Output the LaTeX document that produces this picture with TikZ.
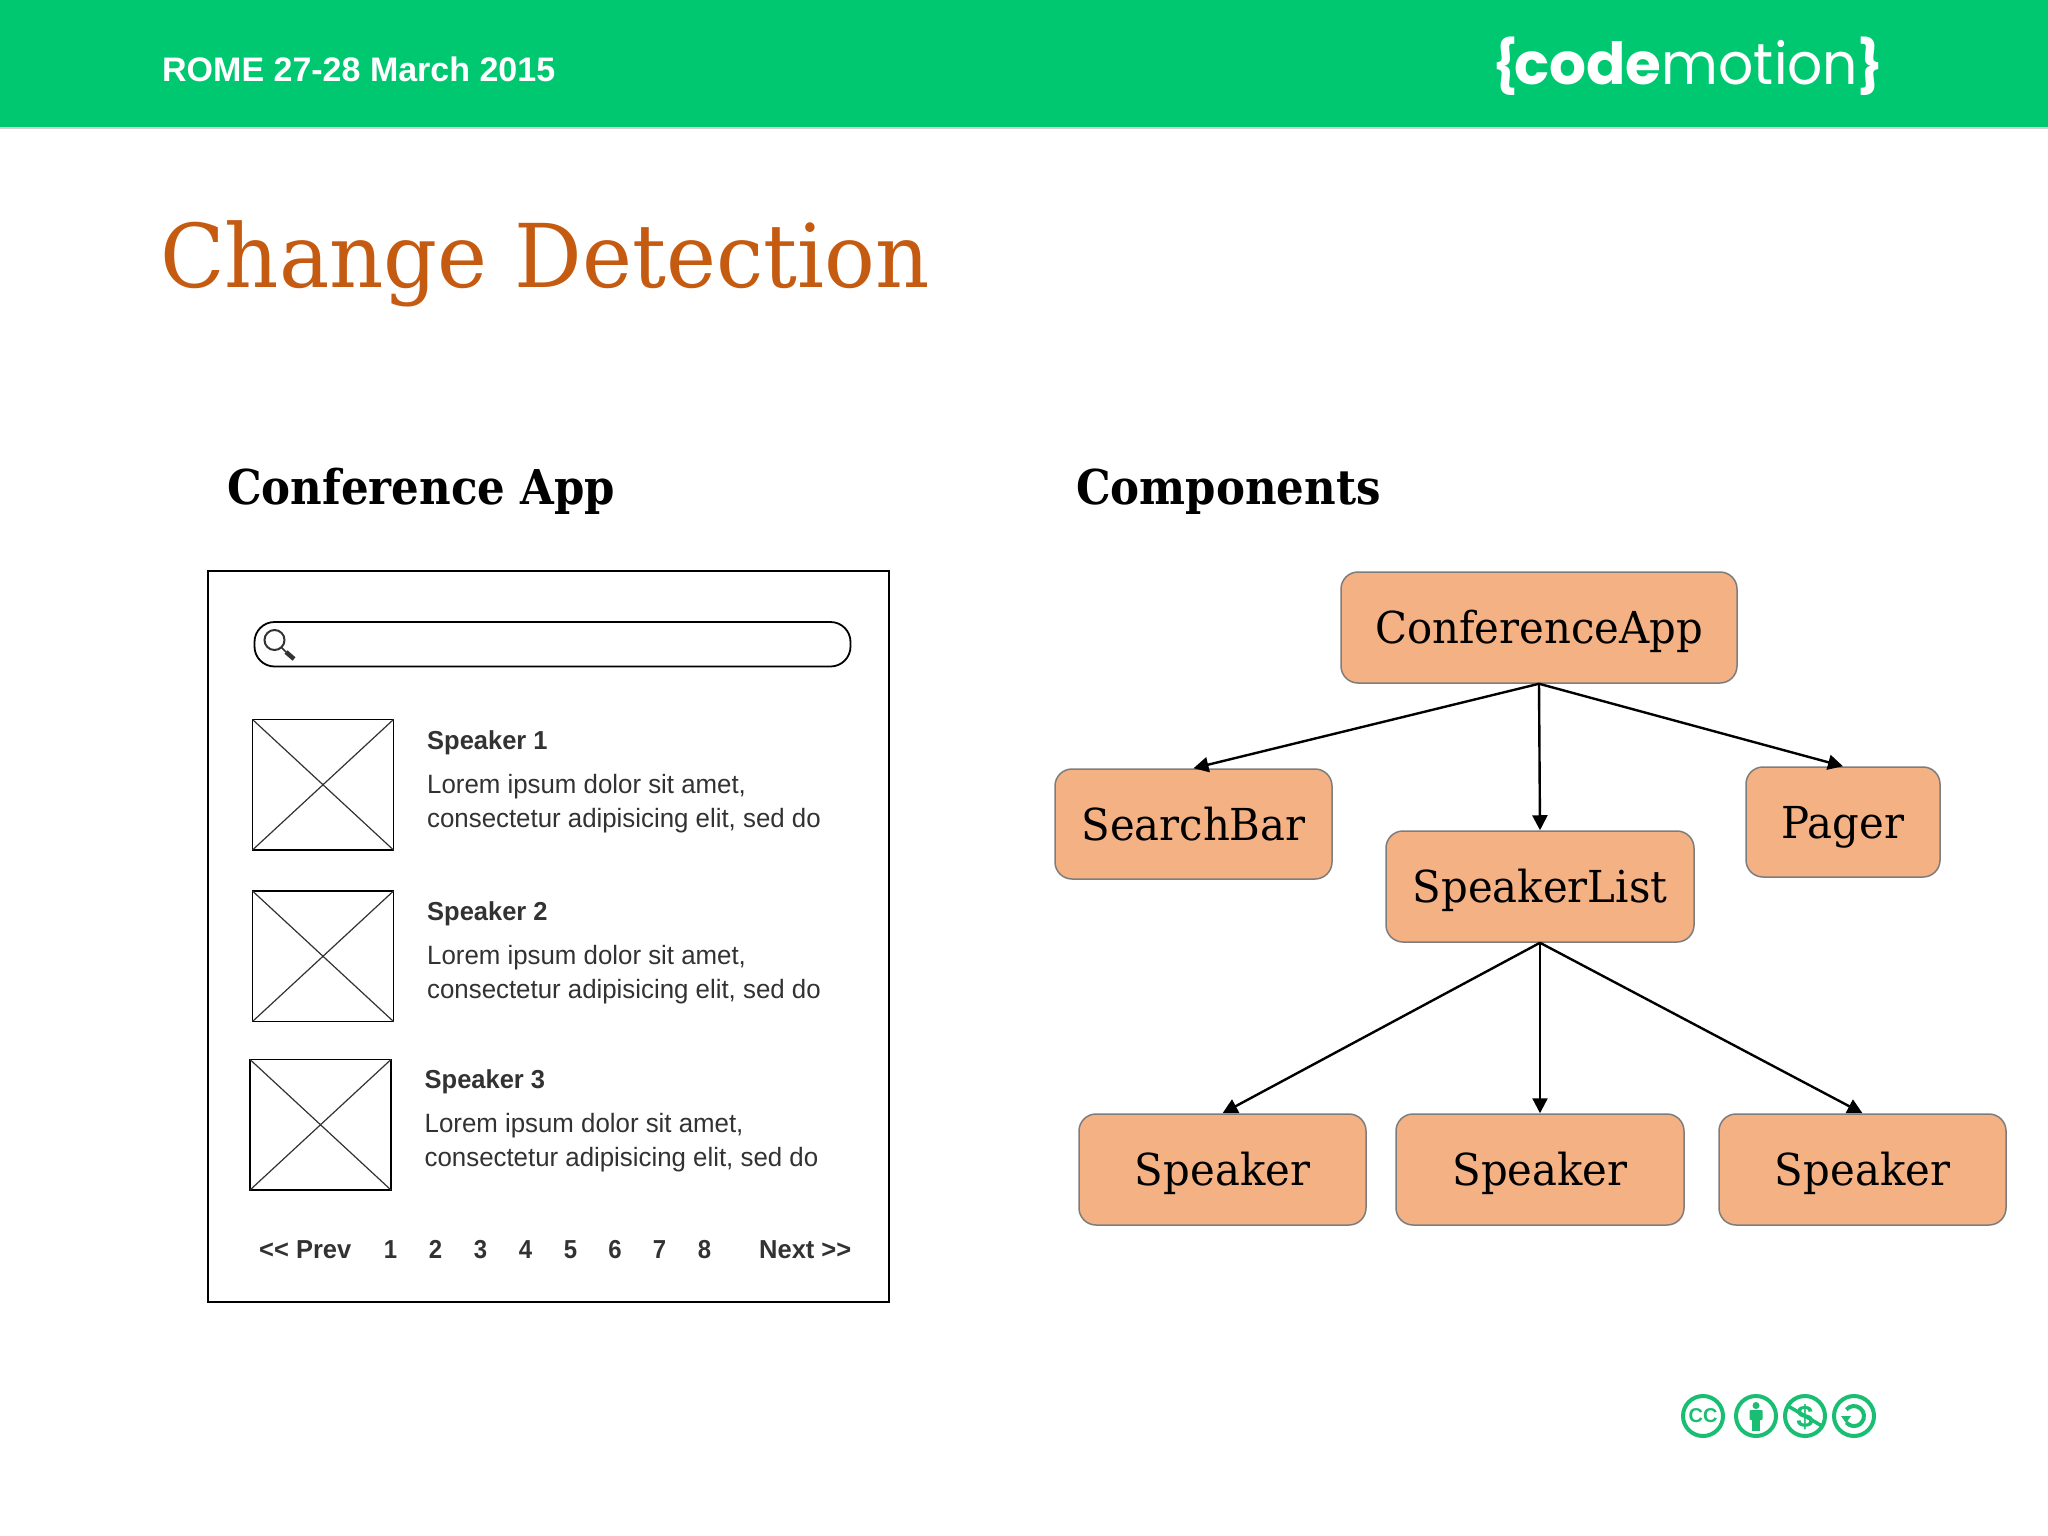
\documentclass[tikz,border=0pt]{standalone}
\usepackage{fontspec}
\usetikzlibrary{arrows.meta}
\setmainfont{Liberation Sans}
\newfontfamily\slab[FakeStretch=0.88]{DejaVu Serif}
\newfontfamily\slabwide[FakeStretch=0.95]{DejaVu Serif}
\newfontfamily\pop{Poppins}
\newcommand{\fsz}[1]{\fontsize{#1}{#1}\selectfont}
\definecolor{hdrgreen}{RGB}{0,200,113}
\definecolor{ccgreen}{RGB}{25,190,115}
\definecolor{titlecol}{RGB}{197,90,17}
\definecolor{boxfill}{RGB}{244,177,131}
\definecolor{boxline}{RGB}{125,125,125}
\definecolor{wiretext}{RGB}{50,50,50}
\tikzset{
  compbox/.style={draw=boxline,line width=1.5pt,fill=boxfill,rounded corners=17pt,inner sep=0pt,font=\slabwide\fsz{44},text=black,anchor=center,text height=42pt,text depth=10pt},
  arrowline/.style={draw=black,line width=2.4pt,-{Triangle[length=15pt,width=15pt]}},
  wire/.style={draw=black,line width=1.8pt},
  wirethin/.style={draw=wiretext,line width=1.2pt},
  wlabel/.style={anchor=base west,inner sep=0pt,font=\fsz{26.5},text=wiretext,xscale=0.975},
  wbold/.style={anchor=base west,inner sep=0pt,font=\bfseries\fsz{26},text=wiretext,xscale=0.98},
  pagenum/.style={anchor=base,inner sep=0pt,font=\bfseries\fsz{26},text=wiretext,xscale=0.92},
  heading/.style={anchor=base west,inner sep=0pt,font=\slab\bfseries\fsz{48},text=black,xscale=1.03},
  ccring/.style={draw=ccgreen,line width=4pt,fill=white},
  logotext/.style={anchor=base,inner sep=0pt,text=white},
}
\begin{document}
\begin{tikzpicture}[x=1pt,y=-1pt]
\useasboundingbox (0,0) rectangle (2048,1536);
\fill[white] (0,0) rectangle (2048,1536);
% header
\fill[black!18] (0,127) rectangle (2048,129.5);
\fill[hdrgreen] (0,0) rectangle (2048,127.5);
\node[anchor=base west,inner sep=0pt,text=white,font=\bfseries\fsz{34}] (hdr) at (162,82) {ROME 27-28 March 2015};
% logo
\node[logotext,font=\pop\bfseries\fsz{52}] (lb) at (1505,85) {\{};
\node[logotext,font=\pop\bfseries\fsz{58}] (lcode) at (1588,85) {code};
\node[logotext,font=\pop\fsz{58},xscale=0.95] (lmot) at (1760,85) {motion};
\node[logotext,font=\pop\bfseries\fsz{52}] (rb) at (1870,85) {\}};
% title
\node[anchor=base west,inner sep=0pt,text=titlecol,font=\slab\fsz{88},xscale=1.09] (title) at (160,287) {Change Detection};
\node[heading] (h1) at (227,504) {Conference App};
\node[heading] (h2) at (1076,504) {Components};
% wireframe
\draw[draw=black,line width=2pt] (207.7,570.7) rectangle (888.5,1302);
\draw[wire,rounded corners=20pt] (254.5,622) rectangle (850.5,666.5);
\draw[draw=wiretext,line width=2pt] (274.5,640) circle (10);
\draw[draw=wiretext,line width=1.6pt] (281.5,647.5) -- (286,652);
\draw[draw=wiretext,line width=4.5pt] (286,652) -- (294,659);
\foreach \ix/\iy in {252.5/719.5,252.5/891,250/1059.5}{
  \draw[wire] (\ix,\iy) rectangle +(141,130.5);
  \draw[wirethin] (\ix,\iy) -- +(141,130.5);
  \draw[wirethin] (\ix+141,\iy) -- +(-141,130.5);
}
\node[wbold] (s1) at (427,749) {Speaker 1};
\node[wlabel] (l1a) at (427,793) {Lorem ipsum dolor sit amet,};
\node[wlabel] (l1b) at (427,827) {consectetur adipisicing elit, sed do};
\node[wbold] (s2) at (427,920) {Speaker 2};
\node[wlabel] (l2a) at (427,964) {Lorem ipsum dolor sit amet,};
\node[wlabel] (l2b) at (427,998) {consectetur adipisicing elit, sed do};
\node[wbold] (s3) at (424.5,1088) {Speaker 3};
\node[wlabel] (l3a) at (424.5,1132) {Lorem ipsum dolor sit amet,};
\node[wlabel] (l3b) at (424.5,1166) {consectetur adipisicing elit, sed do};
\node[wbold] (prev) at (259,1258) {<{}< Prev};
\foreach \px/\pn in {390.5/1,435.5/2,480.5/3,525.5/4,570.5/5,615/6,659.5/7,704.5/8}{
  \node[pagenum] (p\pn) at (\px,1258) {\pn};
}
\node[wbold] (next) at (759,1258) {Next >{}>};
% components
\node[compbox,minimum width=396pt,minimum height=111pt] (app) at (1539,627.5) {ConferenceApp};
\node[compbox,minimum width=277pt,minimum height=110pt] (search) at (1193.5,824) {SearchBar};
\node[compbox,minimum width=194pt,minimum height=110pt] (pager) at (1843,822) {Pager};
\node[compbox,minimum width=308pt,minimum height=111pt] (list) at (1540,886.5) {SpeakerList};
\node[compbox,minimum width=287pt,minimum height=111pt] (sp1) at (1222.5,1169.5) {Speaker};
\node[compbox,minimum width=288pt,minimum height=111pt] (sp2) at (1540,1169.5) {Speaker};
\node[compbox,minimum width=287pt,minimum height=111pt] (sp3) at (1862.5,1169.5) {Speaker};
\draw[arrowline] (app.south) -- (search.north);
\draw[arrowline] (app.south) -- (list.north);
\draw[arrowline] (app.south) -- (pager.north);
\draw[arrowline] (list.south) -- (sp1.north);
\draw[arrowline] (list.south) -- (sp2.north);
\draw[arrowline] (list.south) -- (sp3.north);
% licence icons
\draw[ccring] (1703,1416) circle (20);
\node[inner sep=0pt,text=ccgreen,font=\bfseries\fsz{20}] (cc) at (1703,1416) {CC};
\draw[ccring] (1756,1416) circle (20);
\fill[ccgreen] (1756,1405.5) circle (3.5);
\fill[ccgreen,rounded corners=1pt] (1749.5,1410) rectangle (1762.5,1420);
\fill[ccgreen] (1752,1420) rectangle (1760,1431);
\draw[ccring] (1805,1416) circle (20);
\node[inner sep=0pt,text=ccgreen,font=\bfseries\fsz{31}] (usd) at (1805,1417) {\$};
\draw[draw=ccgreen,line width=3.5pt] (1788,1406) -- (1822,1426);
\draw[ccring] (1854,1416) circle (20);
\draw[draw=ccgreen,line width=4pt] (1846.3,1409.6) arc[start angle=-140,end angle=140,radius=10];
\fill[ccgreen] (1841,1416) -- (1851,1416) -- (1846,1423) -- cycle;
\end{tikzpicture}
\end{document}
